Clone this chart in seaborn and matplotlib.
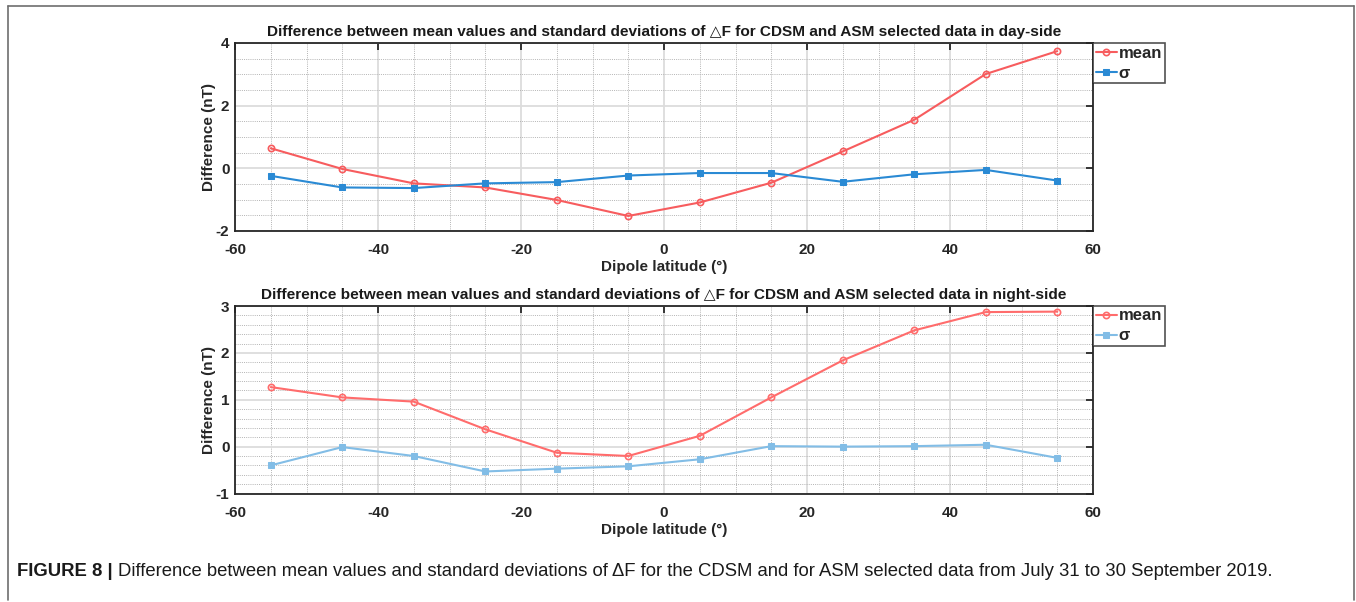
import numpy as np
import pandas as pd
import matplotlib
matplotlib.use("Agg")
import matplotlib.pyplot as plt
from matplotlib.ticker import MultipleLocator
from matplotlib.lines import Line2D
import seaborn as sns

# Dipole latitude bin centres (degrees)
latitude = [-55, -45, -35, -25, -15, -5, 5, 15, 25, 35, 45, 55]

# Day-side differences (nT)
day_mean = [0.64, -0.02, -0.48, -0.61, -1.01, -1.52, -1.09, -0.46, 0.54, 1.55, 3.01, 3.74]
day_sigma = [-0.24, -0.61, -0.63, -0.48, -0.44, -0.23, -0.15, -0.15, -0.43, -0.19, -0.05, -0.39]

# Night-side differences (nT)
night_mean = [1.27, 1.05, 0.96, 0.37, -0.13, -0.20, 0.23, 1.05, 1.84, 2.48, 2.87, 2.88]
night_sigma = [-0.40, -0.01, -0.20, -0.53, -0.47, -0.42, -0.27, 0.01, 0.00, 0.01, 0.04, -0.24]

title_day = "Difference between mean values and standard deviations of \u25b3F for CDSM and ASM selected data in day-side"
title_night = "Difference between mean values and standard deviations of \u25b3F for CDSM and ASM selected data in night-side"
caption_head = "FIGURE 8 | "
caption_body = ("Difference between mean values and standard deviations of \u0394F for the CDSM "
                "and for ASM selected data from July 31 to 30 September 2019.")

sns.set_style("white")
plt.rcParams["font.family"] = ["Liberation Sans", "DejaVu Sans"]
plt.rcParams["axes.unicode_minus"] = False

W, H = 1356, 602
fig = plt.figure(figsize=(W / 100, H / 100), dpi=100)


def px_axes(x0, y0, x1, y1):
    return fig.add_axes([x0 / W, 1 - y1 / H, (x1 - x0) / W, (y1 - y0) / H])


def panel(ax, mean, sigma, title, ylim, ystep, yminor, c_mean, c_sigma):
    df = pd.DataFrame({"lat": latitude, "mean": mean, "sigma": sigma})
    sns.lineplot(data=df, x="lat", y="mean", ax=ax, color=c_mean, lw=1.5,
                 marker="o", markersize=4.5, markerfacecolor="none",
                 markeredgecolor=c_mean, markeredgewidth=1.2, label="mean", zorder=4)
    sns.lineplot(data=df, x="lat", y="sigma", ax=ax, color=c_sigma, lw=1.5,
                 marker="s", markersize=4, markerfacecolor=c_sigma,
                 markeredgecolor=c_sigma, label="\u03c3", zorder=4)
    ax.set_xlim(-60, 60)
    ax.set_ylim(*ylim)
    ax.xaxis.set_major_locator(MultipleLocator(20))
    ax.xaxis.set_minor_locator(MultipleLocator(5))
    ax.yaxis.set_major_locator(MultipleLocator(ystep))
    ax.yaxis.set_minor_locator(MultipleLocator(yminor))
    ax.grid(which="major", color="#dcdcdc", lw=1.3, ls="-", zorder=0)
    ax.grid(which="minor", color="#b4b4b4", lw=0.7, ls=(0, (1, 1.2)), zorder=0)
    ax.set_axisbelow(True)
    ax.tick_params(which="major", direction="in", length=5, width=1.3,
                   top=True, right=True, labelsize=11, colors="#262626")
    ax.tick_params(axis="x", which="major", pad=9)
    ax.tick_params(axis="y", which="major", pad=4)
    ax.tick_params(which="minor", length=0)
    for lab in ax.get_xticklabels() + ax.get_yticklabels():
        lab.set_fontweight("bold")
    for s in ax.spines.values():
        s.set_color("#262626")
        s.set_linewidth(1.3)
        s.set_visible(True)
    ax.set_title(title, fontsize=11.1, fontweight="bold", pad=5, color="#1a1a1a")
    ax.set_xlabel("Dipole latitude (\u00b0)", fontsize=11, fontweight="bold",
                  color="#262626", labelpad=2)
    ax.set_ylabel("Difference (nT)", fontsize=11, fontweight="bold",
                  color="#262626", labelpad=0)
    leg = ax.legend(loc="upper left", bbox_to_anchor=(1.0, 1.0), frameon=True,
                    fancybox=False, edgecolor="#262626",
                    prop={"weight": "bold", "size": 12}, handlelength=1.3,
                    handletextpad=0.1, borderpad=0.15, labelspacing=0.3,
                    borderaxespad=0.0)
    leg.get_frame().set_linewidth(1.2)


ax1 = px_axes(235, 43, 1093, 231)
panel(ax1, day_mean, day_sigma, title_day, (-2, 4), 2, 0.5, "#f75c5e", "#2a8ad4")

ax2 = px_axes(235, 306, 1093, 493.5)
panel(ax2, night_mean, night_sigma, title_night, (-1, 3), 1, 0.2, "#ff6c6c", "#82bde6")

# outer frame of the figure panel
for xs, ys in [([8, 8], [600, 6]), ([8, 1354], [6, 6]), ([1354, 1354], [6, 600])]:
    fig.add_artist(Line2D([x / W for x in xs], [1 - y / H for y in ys],
                          color="#6e6e6e", lw=1.2))

# caption: bold heading followed by the regular description
cap_y = 1 - 571 / H
t1 = fig.text(17 / W, cap_y, caption_head, fontsize=13.3, fontweight="bold",
              va="center", ha="left", color="#1a1a1a")
fig.canvas.draw()
bb = t1.get_window_extent(renderer=fig.canvas.get_renderer())
fig.text(bb.x1 / W, cap_y, caption_body, fontsize=13.3, va="center", ha="left",
         color="#1a1a1a")

fig.savefig("out.png", dpi=100)
